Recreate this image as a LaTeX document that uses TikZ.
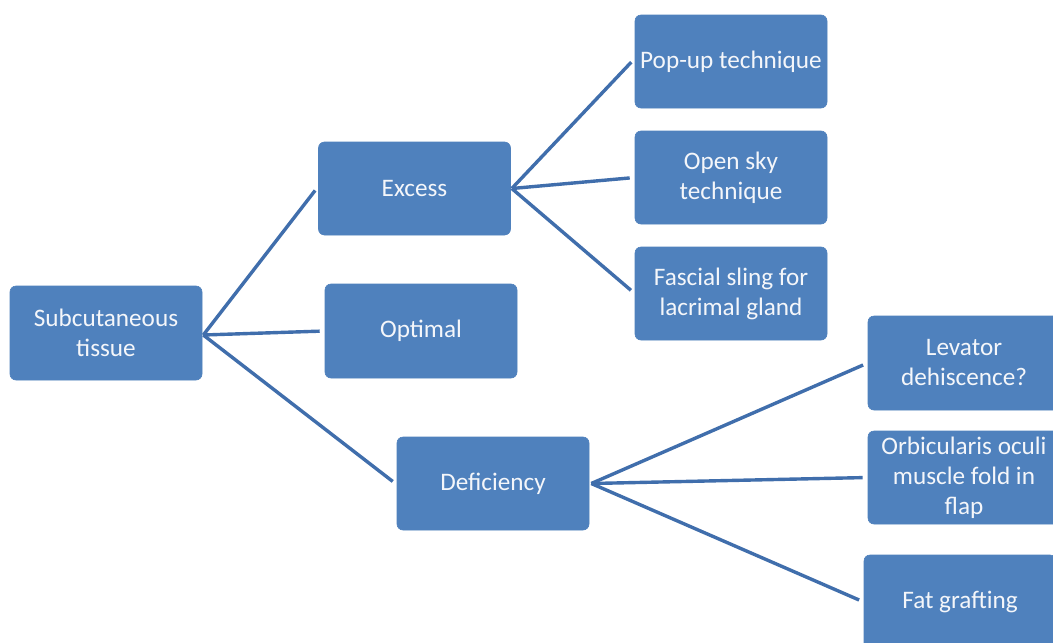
\documentclass[tikz,border=0pt]{standalone}
\usepackage{fontspec}
\setmainfont{Carlito}
\begin{document}
\begin{tikzpicture}[x=1pt,y=-1pt,
  box/.style={fill=boxblue, draw=boxblue, line width=0.6pt, rounded corners=6pt,
    text=textwhite, align=center, inner sep=0pt,
    minimum width=192pt, minimum height=93pt,
    font=\fontsize{25.2}{30}\selectfont},
  link/.style={draw=lineblue, line width=3.4pt, shorten >=5pt}]
\definecolor{boxblue}{HTML}{4F81BD}
\definecolor{lineblue}{HTML}{406EAC}
\definecolor{textwhite}{HTML}{F4F6FA}
\useasboundingbox (0,0) rectangle (1053,643);
\clip (0,0) rectangle (1053,643);
\fill[white] (0,0) rectangle (1053,643);
\node[box, minimum height=94pt] (sub) at (106,333) {Subcutaneous\\tissue};
\node[box] (exc) at (414.5,188.5) {Excess};
\node[box, minimum height=94pt] (opt) at (421,331) {Optimal};
\node[box] (def) at (493,483.5) {Deficiency};
\node[box] (pop) at (731,61.5) {Pop-up technique};
\node[box] (open) at (731,177.5) {Open sky\\technique};
\node[box] (fasc) at (731,293.5) {Fascial sling for\\lacrimal gland};
\node[box, minimum height=94pt] (lev) at (964,363) {Levator\\dehiscence?};
\node[box] (orb) at (964,477.5) {Orbicularis oculi\\muscle fold in\\flap};
\node[box, minimum height=94pt] (fat) at (960,602) {Fat grafting};
\draw[link] ([xshift=1pt,yshift=-2pt]sub.east) -- ([yshift=2pt]exc.west);
\draw[link] ([xshift=1pt,yshift=-2pt]sub.east) -- (opt.west);
\draw[link] ([xshift=1pt,yshift=-2pt]sub.east) -- ([yshift=-1pt]def.west);
\draw[link] ([xshift=1pt]exc.east) -- ([yshift=3pt]pop.west);
\draw[link] ([xshift=1pt]exc.east) -- (open.west);
\draw[link] ([xshift=1pt]exc.east) -- (fasc.west);
\draw[link] ([xshift=2pt]def.east) -- (lev.west);
\draw[link] ([xshift=2pt]def.east) -- (orb.west);
\draw[link] ([xshift=2pt]def.east) -- (fat.west);
\end{tikzpicture}
\end{document}
